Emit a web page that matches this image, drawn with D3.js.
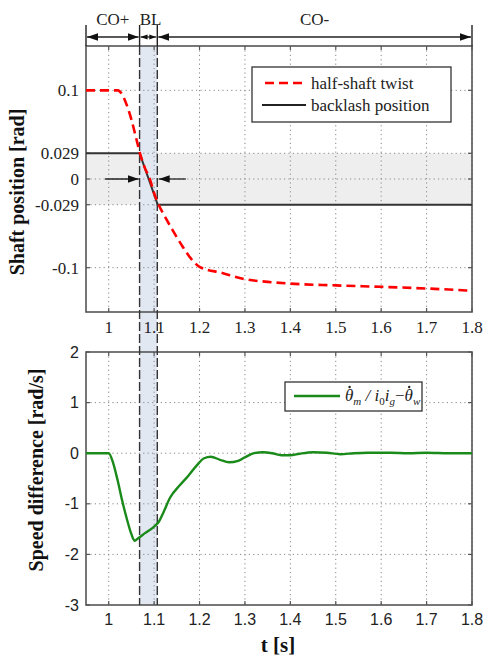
<!DOCTYPE html>
<html>
<head>
<meta charset="utf-8">
<script src="https://cdn.jsdelivr.net/npm/d3@7"></script>
<style>
  html, body { margin: 0; padding: 0; background: #fff; }
  svg { display: block; }
</style>
</head>
<body>
<svg id="chart" width="485" height="656"></svg>
<script>
// ---- data ----
const xTicks = [1, 1.1, 1.2, 1.3, 1.4, 1.5, 1.6, 1.7, 1.8];
const topYTicks = [0.1, 0.029, 0, -0.029, -0.1];
const topYLabels = ["0.1", "0.029", "0", "-0.029", "-0.1"];
const bottomYTicks = [2, 1, 0, -1, -2, -3];

// backlash gap (rad)
const gapHalf = 0.029;

// phase boundaries along t and their names
const phaseBounds = [0.95, 1.068, 1.107, 1.8];
const phaseLabels = ["CO+", "BL", "CO-"];

// half-shaft twist [rad]
const twistT = [0.95, 1.0, 1.02, 1.03, 1.04, 1.05, 1.06, 1.07, 1.08, 1.09, 1.10, 1.11, 1.12, 1.14, 1.16, 1.18, 1.20, 1.25, 1.30, 1.35, 1.40, 1.50, 1.60, 1.70, 1.80];
const twist  = [0.1, 0.1, 0.1, 0.095, 0.083, 0.067, 0.047, 0.027, 0.012, 0.001, -0.016, -0.029, -0.039, -0.057, -0.074, -0.089, -0.099, -0.106, -0.113, -0.116, -0.118, -0.120, -0.1216, -0.1235, -0.126];

// backlash position [rad]
const backlashT = [0.95, 1.068, 1.108, 1.8];
const backlash  = [0.029, 0.029, -0.029, -0.029];

// speed difference [rad/s]
const speedT = [0.95, 1.0, 1.01, 1.02, 1.03, 1.04, 1.05, 1.057, 1.065, 1.08, 1.10, 1.11, 1.12, 1.135, 1.157, 1.175, 1.194, 1.21, 1.225, 1.245, 1.265, 1.285, 1.30, 1.32, 1.34, 1.36, 1.38, 1.40, 1.42, 1.45, 1.48, 1.51, 1.54, 1.57, 1.62, 1.66, 1.70, 1.75, 1.80];
const speed  = [0, 0, -0.2, -0.55, -0.95, -1.3, -1.6, -1.73, -1.68, -1.58, -1.45, -1.36, -1.18, -0.88, -0.63, -0.45, -0.24, -0.1, -0.07, -0.13, -0.18, -0.15, -0.08, 0.0, 0.02, 0.0, -0.04, -0.04, -0.01, 0.02, 0.01, -0.02, 0.0, 0.01, 0.01, 0.0, 0.01, 0.0, 0.0];

// ---- layout ----
const svg = d3.select("#chart");
const serif = "Liberation Serif, DejaVu Serif, serif";
const sans = "Liberation Sans, DejaVu Sans, sans-serif";
const frameColor = "#555";
const gridColor = "#888";

const x = d3.scaleLinear().domain([0.95, 1.8]).range([86, 472]);
const yTop = d3.scaleLinear().domain([-0.15, 0.15]).range([312, 46]);
const yBot = d3.scaleLinear().domain([-3, 2]).range([605, 352]);

// ---- background bands ----
// backlash gap band in the upper plot
svg.append("rect")
  .attr("x", x(0.95)).attr("width", x(1.8) - x(0.95))
  .attr("y", yTop(gapHalf)).attr("height", yTop(-gapHalf) - yTop(gapHalf))
  .attr("fill", "#eeeeee");

// BL phase band spanning both plots
svg.append("rect")
  .attr("x", x(phaseBounds[1])).attr("width", x(phaseBounds[2]) - x(phaseBounds[1]))
  .attr("y", yTop.range()[1]).attr("height", yBot.range()[0] - yTop.range()[1])
  .attr("fill", "#e2e8f2");

// ---- grids ----
function grid(yScale, yVals) {
  const g = svg.append("g").attr("stroke", gridColor).attr("stroke-width", 1)
    .attr("stroke-dasharray", "1.2,3.2");
  g.selectAll(".gx").data(xTicks).join("line")
    .attr("x1", d => x(d)).attr("x2", d => x(d))
    .attr("y1", yScale.range()[1]).attr("y2", yScale.range()[0]);
  g.selectAll(".gy").data(yVals).join("line")
    .attr("x1", x.range()[0]).attr("x2", x.range()[1])
    .attr("y1", d => yScale(d)).attr("y2", d => yScale(d));
}
grid(yTop, topYTicks);
grid(yBot, bottomYTicks.filter(d => d !== 2 && d !== -3));

// ---- frames, ticks and labels ----
function frame(yScale, yVals, yFmt, tickFont, tickSize, xLabelY) {
  const [y0, y1] = [yScale.range()[1], yScale.range()[0]];
  const g = svg.append("g");
  g.append("rect").attr("x", x.range()[0]).attr("y", y0)
    .attr("width", x.range()[1] - x.range()[0]).attr("height", y1 - y0)
    .attr("fill", "none").attr("stroke", frameColor).attr("stroke-width", 1.6);
  const tl = 4;
  g.selectAll(".tb").data(xTicks).join("line")
    .attr("x1", d => x(d)).attr("x2", d => x(d))
    .attr("y1", y1).attr("y2", y1 - tl).attr("stroke", frameColor).attr("stroke-width", 1.2);
  g.selectAll(".tt").data(xTicks).join("line")
    .attr("x1", d => x(d)).attr("x2", d => x(d))
    .attr("y1", y0).attr("y2", y0 + tl).attr("stroke", frameColor).attr("stroke-width", 1.2);
  g.selectAll(".tl").data(yVals).join("line")
    .attr("x1", x.range()[0]).attr("x2", x.range()[0] + tl)
    .attr("y1", d => yScale(d)).attr("y2", d => yScale(d)).attr("stroke", frameColor).attr("stroke-width", 1.2);
  g.selectAll(".tr").data(yVals).join("line")
    .attr("x1", x.range()[1]).attr("x2", x.range()[1] - tl)
    .attr("y1", d => yScale(d)).attr("y2", d => yScale(d)).attr("stroke", frameColor).attr("stroke-width", 1.2);
  g.selectAll(".yl").data(yVals).join("text")
    .attr("x", x.range()[0] - 7).attr("y", d => yScale(d)).attr("dy", "0.35em")
    .attr("text-anchor", "end").attr("font-family", tickFont).attr("font-size", tickSize)
    .attr("fill", "#222").text((d, i) => yFmt(d, i));
  g.selectAll(".xl").data(xTicks).join("text")
    .attr("x", d => x(d)).attr("y", xLabelY)
    .attr("text-anchor", "middle").attr("font-family", tickFont).attr("font-size", tickSize)
    .attr("fill", "#222").text(d => d3.format("")(d));
}
frame(yTop, topYTicks, (d, i) => topYLabels[i], serif, 17, 333);
frame(yBot, bottomYTicks, d => String(d), sans, 16, 625);

// ---- BL band edges (dashed) ----
svg.append("g").attr("stroke", "#333").attr("stroke-width", 1.4).attr("stroke-dasharray", "9,3")
  .selectAll("line").data([phaseBounds[1], phaseBounds[2]]).join("line")
  .attr("x1", d => x(d)).attr("x2", d => x(d))
  .attr("y1", yTop.range()[1]).attr("y2", yBot.range()[0]);

// ---- series ----
const lineTop = d3.line().x(d => x(d[0])).y(d => yTop(d[1]));
const lineBot = d3.line().x(d => x(d[0])).y(d => yBot(d[1])).curve(d3.curveMonotoneX);

svg.append("path").datum(backlashT.map((t, i) => [t, backlash[i]]))
  .attr("d", lineTop).attr("fill", "none").attr("stroke", "#333").attr("stroke-width", 2);

svg.append("path").datum(twistT.map((t, i) => [t, twist[i]]))
  .attr("d", lineTop.curve(d3.curveMonotoneX)).attr("fill", "none")
  .attr("stroke", "#ff0000").attr("stroke-width", 2.6).attr("stroke-dasharray", "9,5");

svg.append("path").datum(speedT.map((t, i) => [t, speed[i]]))
  .attr("d", lineBot).attr("fill", "none").attr("stroke", "#1a8a1a").attr("stroke-width", 2.4);

// ---- arrows marking the backlash gap ----
const defs = svg.append("defs");
function arrowMarker(id, size) {
  defs.append("marker").attr("id", id).attr("viewBox", "0 0 10 10")
    .attr("refX", 10).attr("refY", 5).attr("markerWidth", size).attr("markerHeight", size)
    .attr("markerUnits", "userSpaceOnUse").attr("orient", "auto-start-reverse")
    .append("path").attr("d", "M0,1.5 L10,5 L0,8.5 Z").attr("fill", "#111");
}
arrowMarker("ah", 11);
arrowMarker("ahs", 7);

svg.append("line").attr("x1", x(0.992)).attr("x2", x(1.066)).attr("y1", yTop(0)).attr("y2", yTop(0))
  .attr("stroke", "#222").attr("stroke-width", 1.3).attr("marker-end", "url(#ah)");
svg.append("line").attr("x1", x(1.17)).attr("x2", x(1.11)).attr("y1", yTop(0)).attr("y2", yTop(0))
  .attr("stroke", "#222").attr("stroke-width", 1.3).attr("marker-end", "url(#ah)");

// ---- phase annotation above the upper plot ----
const hdr = svg.append("g");
hdr.selectAll("line.v").data(phaseBounds).join("line")
  .attr("x1", d => x(d)).attr("x2", d => x(d)).attr("y1", 25).attr("y2", yTop.range()[1])
  .attr("stroke", "#222").attr("stroke-width", 1.4);
hdr.selectAll("line.a").data(phaseLabels).join("line")
  .attr("x1", (d, i) => x(phaseBounds[i]) + 1).attr("x2", (d, i) => x(phaseBounds[i + 1]) - 1)
  .attr("y1", 37).attr("y2", 37).attr("stroke", "#222").attr("stroke-width", 1.3)
  .attr("marker-start", (d, i) => i === 1 ? "url(#ahs)" : "url(#ah)")
  .attr("marker-end", (d, i) => i === 1 ? "url(#ahs)" : "url(#ah)");
hdr.selectAll("text").data(phaseLabels).join("text")
  .attr("x", (d, i) => i === 1 ? x(phaseBounds[i]) + 11 : (x(phaseBounds[i]) + x(phaseBounds[i + 1])) / 2)
  .attr("y", 25).attr("text-anchor", "middle").attr("font-family", serif).attr("font-size", 17)
  .attr("fill", "#222").text(d => d);

// ---- legends ----
const leg1 = svg.append("g");
leg1.append("rect").attr("x", 252).attr("y", 67).attr("width", 199).attr("height", 55)
  .attr("fill", "#fff").attr("stroke", "#333").attr("stroke-width", 1.3);
leg1.append("line").attr("x1", 265).attr("x2", 306).attr("y1", 83).attr("y2", 83)
  .attr("stroke", "#ff0000").attr("stroke-width", 2.4).attr("stroke-dasharray", "9,5");
leg1.append("line").attr("x1", 262).attr("x2", 306).attr("y1", 105).attr("y2", 105)
  .attr("stroke", "#222").attr("stroke-width", 2);
leg1.append("text").attr("x", 311).attr("y", 83).attr("dy", "0.35em")
  .attr("font-family", serif).attr("font-size", 17).attr("fill", "#222").text("half-shaft twist");
leg1.append("text").attr("x", 311).attr("y", 105).attr("dy", "0.35em")
  .attr("font-family", serif).attr("font-size", 17).attr("fill", "#222").text("backlash position");

const leg2 = svg.append("g");
leg2.append("rect").attr("x", 285).attr("y", 382).attr("width", 137).attr("height", 29)
  .attr("fill", "#fff").attr("stroke", "#333").attr("stroke-width", 1.3);
leg2.append("line").attr("x1", 294).attr("x2", 340).attr("y1", 396).attr("y2", 396)
  .attr("stroke", "#1a8a1a").attr("stroke-width", 2.4);
const lt = leg2.append("text").attr("x", 345).attr("y", 401)
  .attr("font-family", serif).attr("font-size", 17).attr("font-style", "italic").attr("fill", "#222");
lt.append("tspan").attr("class", "dotted").text("\u03B8");
lt.append("tspan").attr("font-size", 11).attr("dy", 4).text("m");
lt.append("tspan").attr("dy", -4).text(" / i");
lt.append("tspan").attr("font-size", 11).attr("font-style", "normal").attr("dy", 4).text("0");
lt.append("tspan").attr("dy", -4).text("i");
lt.append("tspan").attr("font-size", 11).attr("dy", 4).text("g");
lt.append("tspan").attr("dy", -4).attr("font-style", "normal").text("\u2212");
lt.append("tspan").attr("class", "dotted").text("\u03B8");
lt.append("tspan").attr("font-size", 11).attr("dy", 4).text("w");
// time-derivative dots over each theta
lt.selectAll("tspan.dotted").each(function () {
  const b = this.getBBox();
  leg2.append("circle").attr("cx", b.x + b.width * 0.55).attr("cy", b.y + 1)
    .attr("r", 1.2).attr("fill", "#222");
});

// ---- axis titles ----
svg.append("text").attr("transform", "translate(24,192) rotate(-90)")
  .attr("text-anchor", "middle").attr("font-family", serif).attr("font-weight", "bold")
  .attr("font-size", 20).attr("fill", "#111").text("Shaft position [rad]");
svg.append("text").attr("transform", "translate(43,470) rotate(-90)")
  .attr("text-anchor", "middle").attr("font-family", serif).attr("font-weight", "bold")
  .attr("font-size", 20).attr("fill", "#111").text("Speed difference [rad/s]");
svg.append("text").attr("x", 278).attr("y", 652)
  .attr("text-anchor", "middle").attr("font-family", serif).attr("font-weight", "bold")
  .attr("font-size", 21).attr("fill", "#111").text("t [s]");
</script>
</body>
</html>
